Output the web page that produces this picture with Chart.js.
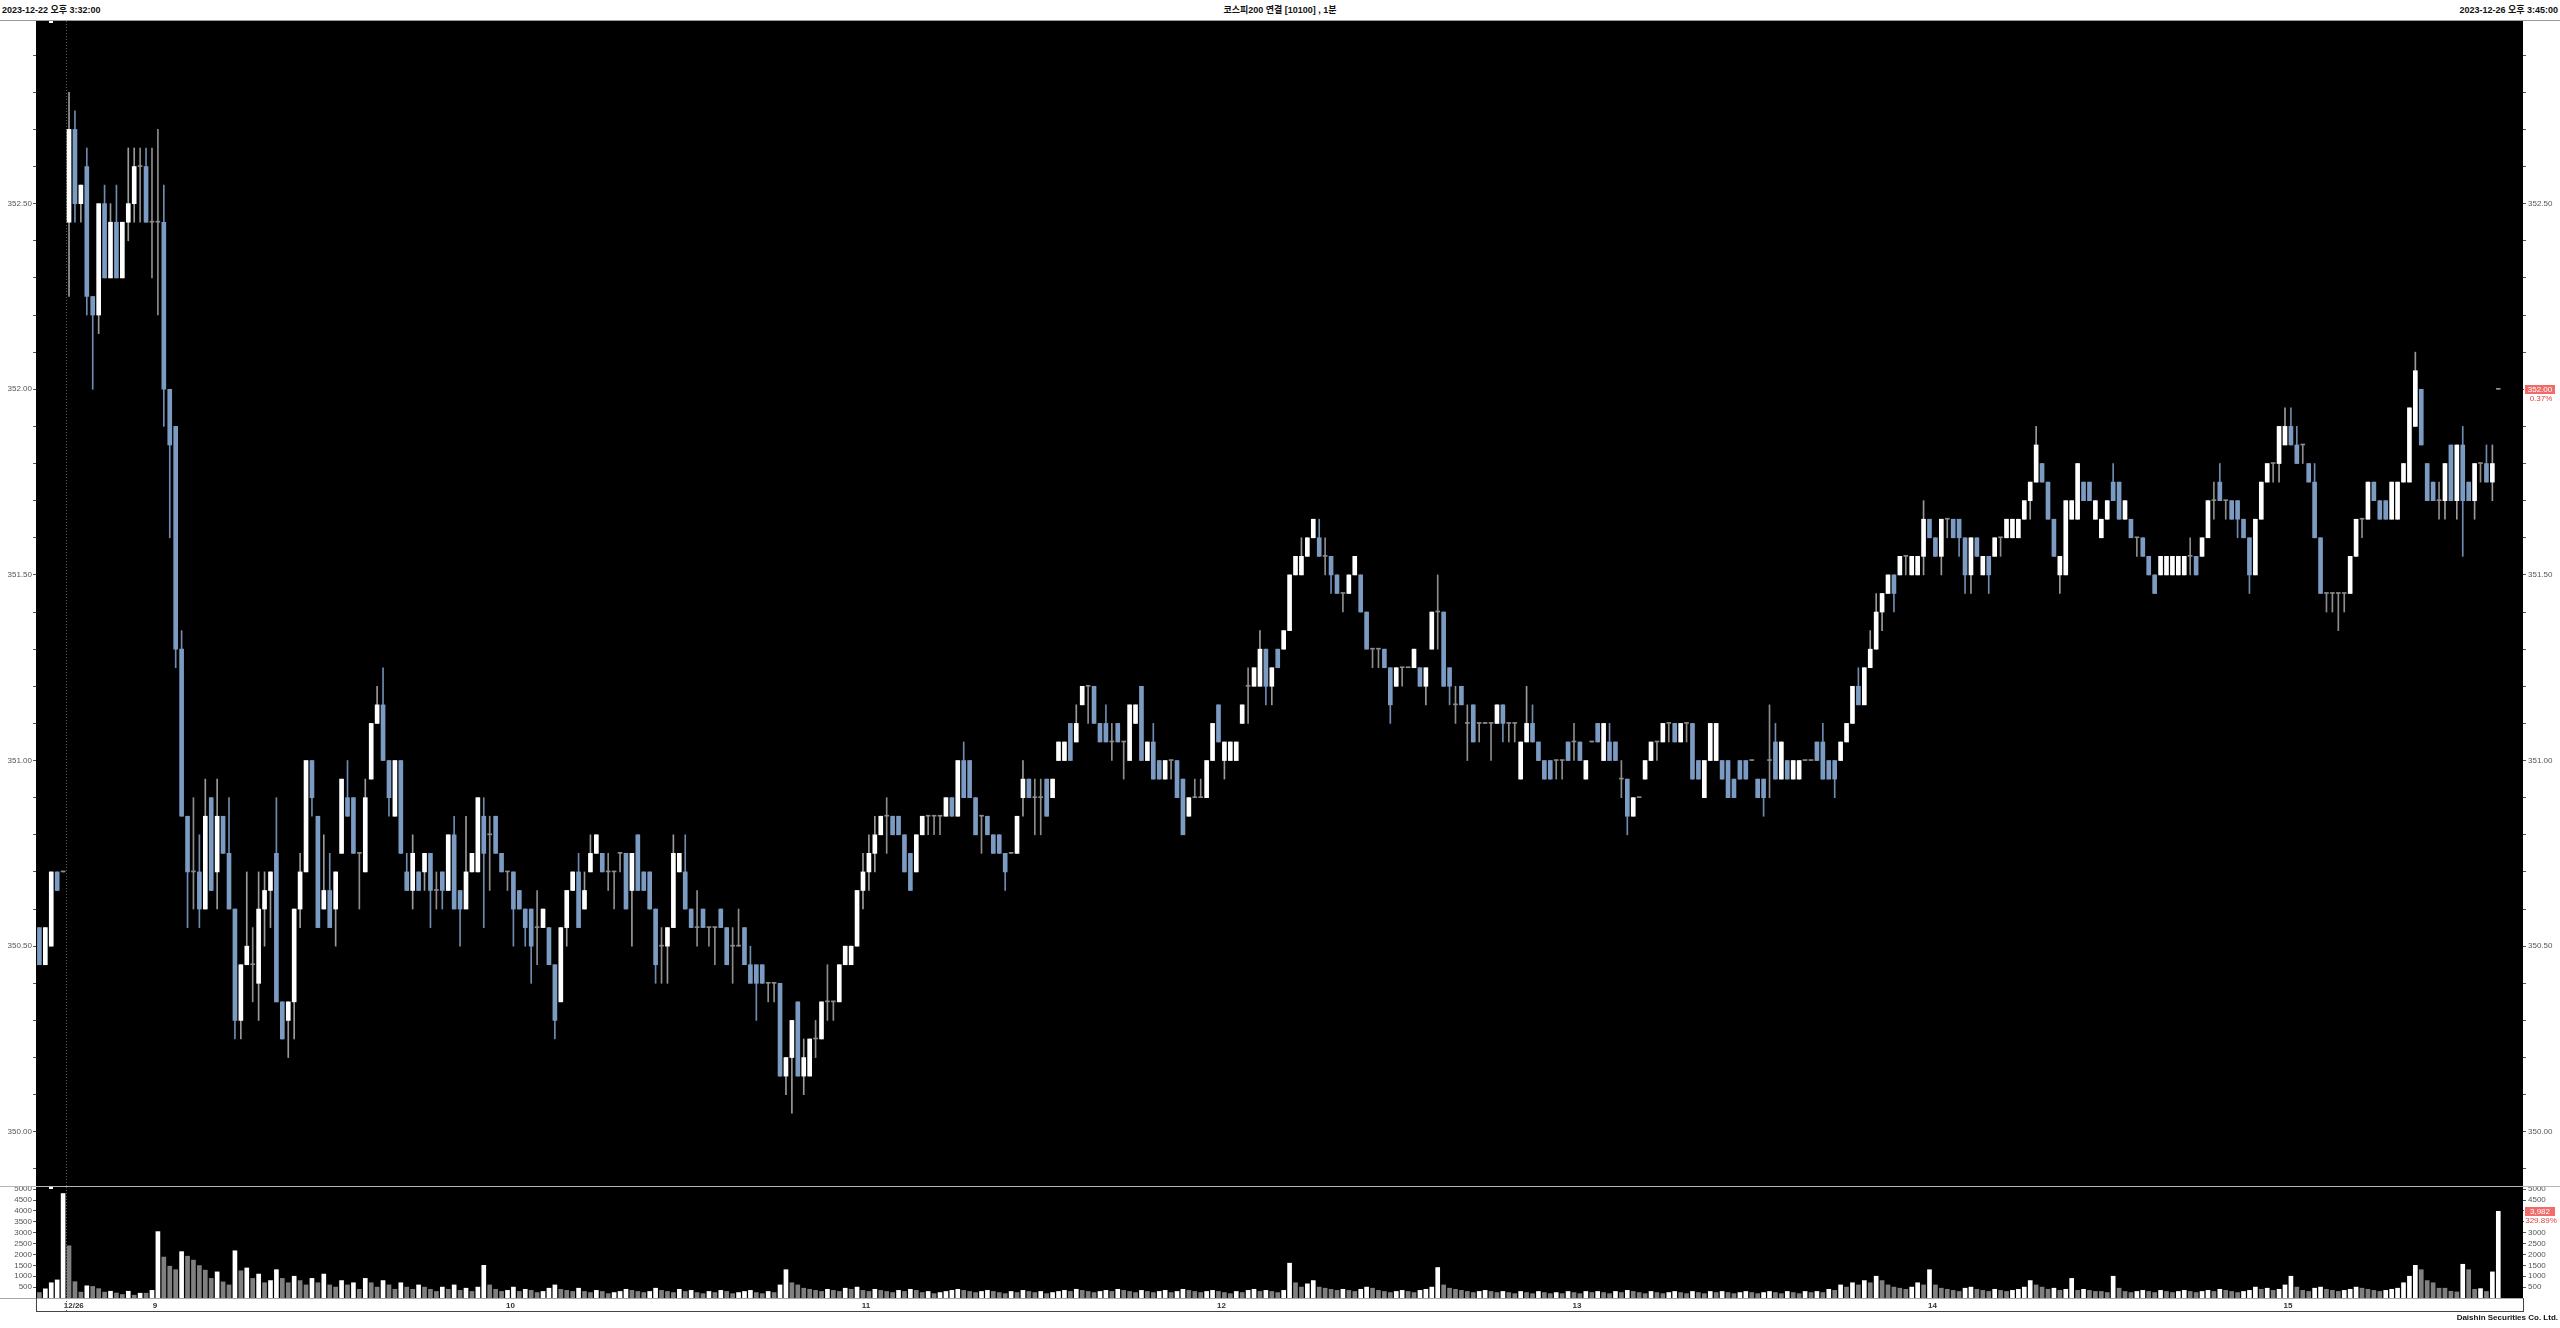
<!DOCTYPE html>
<html>
<head>
<meta charset="utf-8">
<script src="https://cdn.jsdelivr.net/npm/chart.js@4.4.0/dist/chart.umd.min.js"></script>
<style>
  html, body { margin: 0; padding: 0; background: #fff; }
  body { width: 2560px; height: 1328px; position: relative; overflow: hidden;
         font-family: "Liberation Sans", Arial, "Noto Sans CJK KR", sans-serif; }
  .hdr { position: absolute; top: 4px; font-size: 9px; font-weight: bold; color: #111;
         white-space: nowrap; line-height: 12px; }
  .ln { position: absolute; }
  canvas { position: absolute; left: 0; }
  .foot { position: absolute; right: 2px; top: 1313px; font-size: 8px; font-weight: bold; color: #111; }
</style>
</head>
<body>
<div class="hdr" style="left:2px">2023-12-22 오후 3:32:00</div>
<div class="hdr" style="left:0;width:2560px;text-align:center">코스피200 연결 [10100] , 1분</div>
<div class="hdr" style="right:2px">2023-12-26 오후 3:45:00</div>
<div class="ln" style="left:0;top:20px;width:2560px;height:1px;background:#9a9a9a"></div>
<canvas id="price" width="2560" height="1165" style="top:21px"></canvas>
<div class="ln" style="left:0;top:1186px;width:2560px;height:1px;background:#b4b4b4"></div>
<canvas id="volume" width="2560" height="141" style="top:1187px"></canvas>
<div class="ln" style="left:0;top:1298px;width:2523px;height:1px;background:#a8a8a8"></div>
<div class="ln" style="left:36px;top:1311px;width:2488px;height:1px;background:#444"></div>
<div class="ln" style="left:36px;top:1298px;width:1px;height:14px;background:#444"></div>
<div class="ln" style="left:2523px;top:1298px;width:1px;height:14px;background:#444"></div>
<div class="foot">Daishin Securities Co. Ltd.</div>
<script>
// 1-minute candles: 12/22 close (5) + 12/26 session 08:45 ~ 15:35, 15:45 close
const opens = [
  350.55, 350.45, 350.50, 350.70, 350.70, 352.45, 352.70, 352.50, 352.60, 352.25,
  352.20, 352.50, 352.30, 352.45, 352.30, 352.45, 352.50, 352.60, 352.60, 352.45,
  352.45, 352.45, 352.00, 351.90, 351.30, 350.85, 350.70, 350.70, 350.60, 350.90,
  350.70, 350.85, 350.75, 350.60, 350.30, 350.45, 350.45, 350.40, 350.60, 350.65,
  350.75, 350.35, 350.30, 350.35, 350.60, 350.70, 351.00, 350.85, 350.60, 350.65,
  350.60, 350.75, 350.90, 350.90, 350.75, 350.70, 350.95, 351.10, 351.15, 351.00,
  350.85, 351.00, 350.70, 350.65, 350.70, 350.70, 350.75, 350.65, 350.70, 350.65,
  350.80, 350.65, 350.60, 350.70, 350.70, 350.85, 350.80, 350.85, 350.75, 350.70,
  350.70, 350.65, 350.60, 350.60, 350.55, 350.55, 350.55, 350.45, 350.35, 350.55,
  350.65, 350.70, 350.60, 350.70, 350.75, 350.75, 350.70, 350.70, 350.75, 350.75,
  350.65, 350.80, 350.70, 350.70, 350.60, 350.50, 350.50, 350.55, 350.70, 350.70,
  350.60, 350.55, 350.60, 350.55, 350.55, 350.60, 350.55, 350.50, 350.50, 350.55,
  350.45, 350.45, 350.45, 350.40, 350.40, 350.40, 350.15, 350.20, 350.35, 350.15,
  350.15, 350.25, 350.25, 350.35, 350.35, 350.35, 350.45, 350.45, 350.50, 350.65,
  350.70, 350.75, 350.80, 350.85, 350.85, 350.85, 350.80, 350.75, 350.70, 350.80,
  350.85, 350.85, 350.85, 350.85, 350.90, 350.85, 351.00, 351.00, 350.90, 350.85,
  350.85, 350.80, 350.80, 350.75, 350.75, 350.75, 350.90, 350.95, 350.90, 350.90,
  350.95, 350.90, 351.00, 351.00, 351.10, 351.05, 351.15, 351.20, 351.20, 351.10,
  351.10, 351.05, 351.10, 351.05, 351.00, 351.10, 351.20, 351.00, 351.05, 351.00,
  350.95, 351.00, 351.00, 350.95, 350.85, 350.90, 350.90, 350.90, 351.00, 351.15,
  351.00, 351.00, 351.00, 351.10, 351.20, 351.20, 351.20, 351.30, 351.20, 351.30,
  351.30, 351.35, 351.50, 351.50, 351.55, 351.60, 351.60, 351.55, 351.55, 351.50,
  351.45, 351.45, 351.50, 351.50, 351.40, 351.30, 351.30, 351.30, 351.25, 351.20,
  351.25, 351.25, 351.25, 351.25, 351.20, 351.30, 351.40, 351.40, 351.25, 351.15,
  351.20, 351.10, 351.15, 351.10, 351.10, 351.10, 351.10, 351.15, 351.10, 351.10,
  350.95, 351.05, 351.10, 351.05, 351.00, 351.00, 351.00, 351.00, 351.05, 351.05,
  351.05, 350.95, 351.05, 351.10, 351.00, 351.05, 351.05, 350.95, 350.95, 350.85,
  350.90, 350.95, 351.00, 351.05, 351.05, 351.10, 351.10, 351.05, 351.10, 351.10,
  351.00, 350.90, 351.00, 351.00, 351.00, 351.00, 350.95, 351.00, 351.00, 351.00,
  350.95, 350.95, 351.00, 351.05, 350.95, 351.00, 350.95, 350.95, 351.00, 351.00,
  351.05, 351.05, 351.00, 351.00, 351.00, 351.05, 351.10, 351.20, 351.15, 351.25,
  351.30, 351.40, 351.45, 351.50, 351.50, 351.55, 351.50, 351.50, 351.55, 351.65,
  351.60, 351.55, 351.65, 351.65, 351.65, 351.60, 351.50, 351.60, 351.50, 351.55,
  351.55, 351.60, 351.60, 351.60, 351.60, 351.65, 351.70, 351.75, 351.80, 351.75,
  351.65, 351.50, 351.50, 351.65, 351.65, 351.75, 351.75, 351.65, 351.60, 351.65,
  351.75, 351.75, 351.65, 351.65, 351.60, 351.60, 351.55, 351.50, 351.50, 351.50,
  351.50, 351.50, 351.50, 351.55, 351.55, 351.55, 351.60, 351.70, 351.75, 351.70,
  351.70, 351.70, 351.65, 351.60, 351.50, 351.65, 351.75, 351.80, 351.80, 351.85,
  351.90, 351.85, 351.85, 351.80, 351.75, 351.60, 351.45, 351.45, 351.45, 351.45,
  351.45, 351.55, 351.65, 351.65, 351.75, 351.70, 351.70, 351.65, 351.65, 351.75,
  351.75, 351.90, 352.00, 351.80, 351.75, 351.70, 351.70, 351.85, 351.70, 351.85,
  351.75, 351.70, 351.80, 351.80, 351.75, 352.00
];
const highs = [
  350.55, 350.55, 350.70, 350.70, 350.70, 352.80, 352.75, 352.55, 352.65, 352.25,
  352.50, 352.55, 352.50, 352.55, 352.45, 352.65, 352.65, 352.65, 352.65, 352.65,
  352.70, 352.55, 352.00, 351.90, 351.35, 350.85, 350.90, 350.80, 350.95, 350.90,
  350.95, 350.85, 350.90, 350.60, 350.45, 350.70, 350.55, 350.70, 350.70, 350.70,
  350.90, 350.35, 350.35, 350.60, 350.75, 351.00, 351.00, 350.85, 350.80, 350.75,
  350.70, 350.95, 351.00, 350.90, 350.75, 350.95, 351.10, 351.20, 351.25, 351.00,
  351.00, 351.00, 350.75, 350.80, 350.70, 350.75, 350.75, 350.70, 350.70, 350.80,
  350.85, 350.65, 350.85, 350.75, 350.90, 350.90, 350.85, 350.85, 350.75, 350.70,
  350.70, 350.65, 350.60, 350.60, 350.65, 350.60, 350.55, 350.45, 350.55, 350.65,
  350.70, 350.75, 350.70, 350.80, 350.80, 350.75, 350.75, 350.70, 350.75, 350.75,
  350.75, 350.80, 350.70, 350.70, 350.60, 350.55, 350.55, 350.80, 350.75, 350.80,
  350.60, 350.65, 350.60, 350.55, 350.55, 350.60, 350.55, 350.55, 350.60, 350.55,
  350.50, 350.45, 350.45, 350.40, 350.40, 350.40, 350.20, 350.30, 350.35, 350.25,
  350.25, 350.30, 350.35, 350.45, 350.35, 350.45, 350.50, 350.50, 350.65, 350.75,
  350.80, 350.85, 350.85, 350.90, 350.85, 350.85, 350.80, 350.75, 350.80, 350.85,
  350.85, 350.85, 350.85, 350.90, 350.90, 351.00, 351.05, 351.00, 350.90, 350.85,
  350.85, 350.80, 350.80, 350.75, 350.75, 350.85, 351.00, 350.95, 350.95, 350.95,
  350.95, 350.95, 351.05, 351.05, 351.10, 351.15, 351.20, 351.20, 351.20, 351.10,
  351.15, 351.10, 351.10, 351.05, 351.15, 351.15, 351.20, 351.05, 351.10, 351.00,
  351.00, 351.00, 351.00, 350.95, 350.90, 350.95, 350.95, 351.00, 351.10, 351.15,
  351.05, 351.05, 351.05, 351.15, 351.25, 351.25, 351.35, 351.30, 351.25, 351.30,
  351.35, 351.50, 351.55, 351.60, 351.60, 351.65, 351.65, 351.60, 351.55, 351.50,
  351.45, 351.50, 351.55, 351.50, 351.40, 351.30, 351.30, 351.30, 351.25, 351.25,
  351.25, 351.25, 351.30, 351.25, 351.25, 351.40, 351.50, 351.40, 351.25, 351.20,
  351.20, 351.15, 351.15, 351.10, 351.10, 351.10, 351.15, 351.15, 351.10, 351.10,
  351.05, 351.20, 351.15, 351.05, 351.00, 351.00, 351.00, 351.00, 351.05, 351.10,
  351.05, 351.00, 351.05, 351.10, 351.10, 351.10, 351.05, 351.00, 350.95, 350.90,
  350.90, 351.00, 351.05, 351.05, 351.10, 351.10, 351.10, 351.10, 351.10, 351.10,
  351.00, 351.00, 351.10, 351.10, 351.00, 351.00, 350.95, 351.00, 351.00, 351.00,
  350.95, 350.95, 351.15, 351.10, 351.05, 351.00, 351.00, 351.00, 351.00, 351.00,
  351.05, 351.10, 351.00, 351.00, 351.05, 351.10, 351.20, 351.25, 351.25, 351.35,
  351.45, 351.45, 351.50, 351.50, 351.55, 351.55, 351.55, 351.55, 351.70, 351.65,
  351.60, 351.65, 351.65, 351.65, 351.65, 351.60, 351.60, 351.60, 351.55, 351.55,
  351.60, 351.60, 351.65, 351.65, 351.65, 351.70, 351.75, 351.90, 351.80, 351.75,
  351.65, 351.55, 351.70, 351.70, 351.80, 351.75, 351.75, 351.70, 351.65, 351.70,
  351.80, 351.75, 351.70, 351.65, 351.60, 351.60, 351.55, 351.50, 351.55, 351.55,
  351.55, 351.55, 351.55, 351.60, 351.55, 351.60, 351.70, 351.75, 351.80, 351.70,
  351.70, 351.70, 351.65, 351.60, 351.65, 351.75, 351.80, 351.80, 351.90, 351.95,
  351.95, 351.90, 351.85, 351.80, 351.80, 351.60, 351.45, 351.45, 351.45, 351.45,
  351.55, 351.65, 351.65, 351.75, 351.75, 351.70, 351.70, 351.75, 351.75, 351.80,
  351.95, 352.10, 352.00, 351.80, 351.75, 351.75, 351.80, 351.85, 351.85, 351.90,
  351.75, 351.80, 351.80, 351.85, 351.85, 352.00
];
const lows = [
  350.45, 350.45, 350.50, 350.65, 350.70, 352.25, 352.45, 352.45, 352.20, 352.00,
  352.15, 352.30, 352.30, 352.30, 352.30, 352.40, 352.45, 352.45, 352.45, 352.30,
  352.20, 351.90, 351.60, 351.25, 350.85, 350.55, 350.60, 350.55, 350.60, 350.65,
  350.60, 350.75, 350.60, 350.25, 350.25, 350.45, 350.35, 350.30, 350.50, 350.55,
  350.35, 350.25, 350.20, 350.25, 350.55, 350.70, 350.85, 350.55, 350.60, 350.55,
  350.50, 350.75, 350.85, 350.75, 350.60, 350.70, 350.95, 351.10, 351.00, 350.85,
  350.85, 350.75, 350.65, 350.60, 350.65, 350.65, 350.55, 350.60, 350.60, 350.65,
  350.60, 350.50, 350.60, 350.70, 350.70, 350.55, 350.65, 350.75, 350.70, 350.65,
  350.50, 350.60, 350.50, 350.40, 350.45, 350.55, 350.45, 350.25, 350.35, 350.50,
  350.65, 350.55, 350.60, 350.70, 350.75, 350.70, 350.65, 350.60, 350.70, 350.60,
  350.50, 350.65, 350.65, 350.60, 350.40, 350.40, 350.40, 350.55, 350.70, 350.60,
  350.55, 350.50, 350.55, 350.50, 350.45, 350.55, 350.45, 350.40, 350.50, 350.45,
  350.40, 350.30, 350.40, 350.35, 350.35, 350.15, 350.10, 350.05, 350.15, 350.10,
  350.15, 350.20, 350.25, 350.30, 350.30, 350.35, 350.45, 350.45, 350.50, 350.60,
  350.65, 350.70, 350.80, 350.75, 350.80, 350.80, 350.70, 350.65, 350.70, 350.80,
  350.80, 350.80, 350.80, 350.85, 350.85, 350.85, 350.90, 350.90, 350.80, 350.75,
  350.80, 350.75, 350.75, 350.65, 350.75, 350.75, 350.85, 350.90, 350.80, 350.80,
  350.85, 350.90, 351.00, 351.00, 351.00, 351.05, 351.15, 351.10, 351.10, 351.05,
  351.05, 351.00, 351.05, 350.95, 351.00, 351.10, 351.00, 351.00, 350.95, 350.95,
  350.95, 350.95, 350.90, 350.80, 350.85, 350.90, 350.90, 350.90, 351.00, 351.05,
  350.95, 351.00, 351.00, 351.10, 351.10, 351.20, 351.20, 351.15, 351.15, 351.25,
  351.30, 351.35, 351.50, 351.50, 351.55, 351.60, 351.55, 351.50, 351.45, 351.45,
  351.40, 351.45, 351.50, 351.40, 351.30, 351.25, 351.25, 351.25, 351.10, 351.20,
  351.20, 351.25, 351.25, 351.20, 351.15, 351.30, 351.30, 351.20, 351.15, 351.10,
  351.15, 351.00, 351.05, 351.05, 351.10, 351.00, 351.10, 351.05, 351.05, 351.05,
  350.95, 351.05, 351.05, 351.00, 350.95, 350.95, 350.95, 350.95, 351.00, 351.00,
  351.00, 350.95, 351.05, 351.05, 351.00, 351.00, 351.00, 350.90, 350.80, 350.85,
  350.90, 350.95, 351.00, 351.00, 351.05, 351.05, 351.05, 351.05, 351.05, 350.95,
  350.95, 350.90, 351.00, 351.00, 350.95, 350.90, 350.90, 350.95, 350.95, 351.00,
  350.90, 350.85, 350.90, 350.95, 350.95, 350.95, 350.95, 350.95, 351.00, 351.00,
  351.00, 350.95, 350.95, 350.90, 351.00, 351.05, 351.10, 351.15, 351.15, 351.25,
  351.30, 351.35, 351.45, 351.40, 351.50, 351.50, 351.50, 351.50, 351.50, 351.60,
  351.55, 351.50, 351.60, 351.60, 351.55, 351.45, 351.45, 351.55, 351.50, 351.45,
  351.55, 351.55, 351.60, 351.60, 351.60, 351.65, 351.65, 351.75, 351.75, 351.65,
  351.55, 351.45, 351.50, 351.65, 351.65, 351.70, 351.70, 351.65, 351.60, 351.65,
  351.70, 351.65, 351.65, 351.60, 351.55, 351.55, 351.50, 351.45, 351.50, 351.50,
  351.50, 351.50, 351.50, 351.50, 351.50, 351.55, 351.60, 351.65, 351.70, 351.65,
  351.65, 351.60, 351.60, 351.45, 351.50, 351.65, 351.75, 351.75, 351.75, 351.85,
  351.85, 351.80, 351.80, 351.75, 351.60, 351.45, 351.40, 351.40, 351.35, 351.40,
  351.45, 351.55, 351.60, 351.65, 351.70, 351.65, 351.65, 351.65, 351.65, 351.75,
  351.75, 351.90, 351.85, 351.70, 351.70, 351.65, 351.65, 351.70, 351.65, 351.55,
  351.70, 351.65, 351.75, 351.75, 351.70, 352.00
];
const closes = [
  350.45, 350.55, 350.70, 350.65, 350.70, 352.70, 352.50, 352.55, 352.25, 352.20,
  352.50, 352.30, 352.45, 352.30, 352.45, 352.50, 352.60, 352.60, 352.45, 352.45,
  352.45, 352.00, 351.85, 351.30, 350.85, 350.70, 350.70, 350.60, 350.85, 350.65,
  350.85, 350.75, 350.60, 350.30, 350.45, 350.50, 350.45, 350.60, 350.65, 350.70,
  350.35, 350.25, 350.35, 350.60, 350.70, 351.00, 350.90, 350.55, 350.65, 350.55,
  350.70, 350.95, 350.85, 350.75, 350.75, 350.90, 351.10, 351.15, 351.00, 350.90,
  351.00, 350.75, 350.65, 350.75, 350.65, 350.75, 350.65, 350.65, 350.65, 350.80,
  350.60, 350.60, 350.70, 350.75, 350.90, 350.75, 350.80, 350.75, 350.70, 350.70,
  350.60, 350.60, 350.55, 350.50, 350.55, 350.60, 350.45, 350.30, 350.55, 350.65,
  350.70, 350.55, 350.65, 350.75, 350.80, 350.70, 350.70, 350.70, 350.75, 350.60,
  350.75, 350.65, 350.65, 350.60, 350.45, 350.50, 350.55, 350.75, 350.75, 350.60,
  350.55, 350.55, 350.55, 350.55, 350.55, 350.55, 350.45, 350.50, 350.50, 350.45,
  350.40, 350.40, 350.40, 350.40, 350.40, 350.15, 350.20, 350.30, 350.15, 350.20,
  350.25, 350.25, 350.35, 350.35, 350.35, 350.45, 350.50, 350.50, 350.65, 350.70,
  350.75, 350.80, 350.85, 350.85, 350.80, 350.80, 350.70, 350.65, 350.80, 350.85,
  350.85, 350.85, 350.85, 350.90, 350.85, 351.00, 350.90, 350.90, 350.80, 350.85,
  350.80, 350.75, 350.75, 350.70, 350.75, 350.85, 350.95, 350.90, 350.90, 350.90,
  350.85, 350.95, 351.05, 351.05, 351.00, 351.10, 351.20, 351.20, 351.10, 351.05,
  351.05, 351.05, 351.05, 351.05, 351.15, 351.15, 351.00, 351.05, 350.95, 350.95,
  351.00, 351.00, 350.90, 350.80, 350.90, 350.90, 350.90, 351.00, 351.10, 351.05,
  351.05, 351.05, 351.05, 351.15, 351.20, 351.25, 351.30, 351.20, 351.25, 351.25,
  351.35, 351.50, 351.55, 351.55, 351.60, 351.65, 351.55, 351.55, 351.50, 351.45,
  351.45, 351.50, 351.55, 351.40, 351.30, 351.30, 351.30, 351.25, 351.15, 351.25,
  351.25, 351.25, 351.30, 351.20, 351.25, 351.40, 351.40, 351.20, 351.20, 351.15,
  351.15, 351.10, 351.05, 351.10, 351.10, 351.10, 351.15, 351.10, 351.10, 351.10,
  351.05, 351.10, 351.05, 351.00, 350.95, 350.95, 351.00, 351.00, 351.00, 351.05,
  351.00, 351.00, 351.05, 351.05, 351.10, 351.00, 351.00, 350.95, 350.85, 350.90,
  350.90, 351.00, 351.05, 351.05, 351.10, 351.10, 351.05, 351.10, 351.10, 350.95,
  350.95, 351.00, 351.10, 351.10, 350.95, 350.90, 350.90, 350.95, 350.95, 351.00,
  350.90, 350.90, 351.00, 350.95, 351.05, 350.95, 351.00, 351.00, 351.00, 351.00,
  351.00, 350.95, 350.95, 350.95, 351.05, 351.10, 351.20, 351.15, 351.25, 351.30,
  351.40, 351.45, 351.50, 351.45, 351.55, 351.55, 351.55, 351.55, 351.65, 351.60,
  351.55, 351.65, 351.65, 351.60, 351.60, 351.50, 351.60, 351.55, 351.55, 351.50,
  351.60, 351.60, 351.65, 351.65, 351.65, 351.70, 351.75, 351.85, 351.75, 351.65,
  351.55, 351.55, 351.70, 351.70, 351.80, 351.70, 351.70, 351.70, 351.65, 351.70,
  351.70, 351.65, 351.70, 351.60, 351.60, 351.55, 351.50, 351.45, 351.55, 351.55,
  351.55, 351.55, 351.55, 351.55, 351.50, 351.60, 351.70, 351.70, 351.70, 351.70,
  351.65, 351.65, 351.60, 351.50, 351.65, 351.75, 351.80, 351.80, 351.90, 351.90,
  351.85, 351.80, 351.85, 351.75, 351.60, 351.45, 351.45, 351.45, 351.45, 351.45,
  351.55, 351.65, 351.65, 351.75, 351.70, 351.65, 351.65, 351.75, 351.75, 351.80,
  351.95, 352.05, 351.85, 351.70, 351.70, 351.70, 351.80, 351.70, 351.85, 351.70,
  351.70, 351.80, 351.80, 351.75, 351.80, 352.00
];
const volumes = [
  250, 420, 700, 830, 4800, 2400, 750, 270, 560, 530,
  430, 270, 310, 230, 160, 310, 130, 220, 220, 350,
  3050, 1880, 1460, 1300, 2130, 1920, 1740, 1490, 1280, 900,
  1200, 740, 600, 2170, 1250, 1380, 900, 1100, 700, 800,
  1300, 900, 700, 1000, 800, 600, 900, 700, 1100, 600,
  500, 800, 600, 700, 400, 900, 700, 500, 800, 600,
  400, 700, 500, 400, 600, 500, 400, 300, 500, 400,
  600, 350, 450, 300, 500, 1500, 600, 400, 300, 350,
  500, 300, 400, 350, 250, 300, 450, 600, 400, 350,
  300, 450, 300, 250, 350, 300, 200, 250, 300, 400,
  350, 300, 250, 300, 450, 350, 300, 250, 400, 300,
  350, 250, 200, 300, 250, 350, 300, 200, 250, 300,
  350, 250, 200, 300, 250, 600, 1300, 700, 600, 450,
  400, 350, 300, 400, 350, 300, 450, 400, 500, 350,
  300, 400, 350, 300, 250, 350, 300, 400, 350, 250,
  300, 200, 250, 300, 350, 400, 350, 300, 250, 300,
  350, 300, 250, 200, 300, 250, 350, 300, 250, 300,
  200, 250, 300, 350, 300, 400, 350, 300, 250, 300,
  350, 300, 400, 350, 300, 250, 350, 300, 250, 300,
  350, 250, 300, 400, 350, 300, 250, 300, 350, 300,
  250, 200, 300, 250, 350, 400, 300, 350, 300, 250,
  350, 1600, 700, 500, 650, 800, 500, 450, 400, 350,
  400, 350, 300, 400, 500, 450, 350, 300, 250, 300,
  350, 300, 250, 350, 400, 500, 1400, 600, 450, 400,
  350, 300, 250, 300, 350, 300, 250, 300, 250, 200,
  300, 250, 200, 300, 250, 200, 250, 200, 300, 250,
  200, 300, 250, 300, 250, 200, 300, 250, 350, 300,
  250, 200, 300, 250, 200, 250, 300, 250, 200, 300,
  250, 200, 300, 250, 300, 250, 200, 250, 300, 250,
  200, 250, 300, 250, 200, 300, 250, 200, 300, 250,
  300, 250, 400, 350, 600, 500, 700, 600, 800, 700,
  1000, 800, 600, 500, 450, 400, 500, 700, 600, 1300,
  600, 450, 400, 350, 300, 450, 500, 400, 350, 300,
  400, 350, 300, 350, 400, 500, 800, 600, 500, 400,
  450, 350, 400, 900, 350, 400, 350, 300, 300, 250,
  1000, 450, 300, 250, 300, 350, 300, 250, 350, 300,
  250, 300, 350, 300, 250, 300, 350, 300, 400, 350,
  300, 250, 300, 350, 500, 400, 450, 350, 400, 600,
  1000, 500, 350, 300, 450, 500, 400, 350, 300, 350,
  400, 500, 450, 400, 350, 300, 350, 400, 450, 700,
  1000, 1500, 1300, 800, 700, 450, 450, 310, 280, 1550,
  1300, 400, 430, 300, 1200, 3982
];
// x-axis labels and the candle index where each one starts
const tickLabels = ['12/26', '9', '10', '11', '12', '13', '14', '15'];
const tickStarts = [5, 20, 80, 140, 200, 260, 320, 380];
const volumeTicks = [500, 1000, 1500, 2000, 2500, 3000, 3500, 4000, 4500, 5000];
const prevClose = 350.70;       // 12/22 close
const volumeChangeText = '329.89%';

const N = closes.length;
const LEFT_W = 36, RIGHT_W = 37;
const X_MIN = -0.574, X_MAX = 419.17;
const DAY_BREAK = 4.5;

const UP = '#ffffff', DOWN = '#7b9bc3', FLAT = '#8c8c8c';
const idx = Array.from({ length: N }, (_, i) => i);
const dir = idx.map(i => closes[i] > opens[i] ? 1 : (closes[i] < opens[i] ? -1 : 0));
const bodyColors = dir.map(d => d > 0 ? UP : (d < 0 ? DOWN : FLAT));
const wickColors = dir.map(d => d > 0 ? '#9a9a9a' : (d < 0 ? '#6f8bb0' : FLAT));
const volColors = volumes.map((v, i) => (i > 0 && v > volumes[i - 1]) ? '#ffffff' : '#808080');

const axisFont = { family: '"Liberation Sans", Arial, sans-serif', size: 8 };

function fixWidth(w) {
    return (s) => { s.width = w; s.paddingTop = 0; s.paddingBottom = 0; };
}

function yAxis(pos, opts) {
    return Object.assign({
        position: pos,
        afterFit: fixWidth(pos === 'left' ? LEFT_W : RIGHT_W),
        grid: { drawOnChartArea: false, drawTicks: true, tickLength: 3, color: '#555', tickColor: '#555' },
        border: { display: false }
    }, opts);
}

const bgPlugin = {
    id: 'bg',
    beforeDraw(chart) {
        const { ctx, chartArea: a } = chart;
        ctx.save();
        ctx.fillStyle = '#000';
        ctx.fillRect(a.left, a.top, a.right - a.left, a.bottom - a.top);
        ctx.restore();
    }
};

function dayLine(extra) {
    return {
        id: 'dayLine',
        beforeDatasetsDraw(chart) {
            const { ctx, chartArea: a, scales } = chart;
            const x = Math.round(scales.x.getPixelForValue(DAY_BREAK)) + 0.5;
            ctx.save();
            ctx.strokeStyle = '#5a5a5a';
            ctx.lineWidth = 1;
            ctx.setLineDash([1, 2]);
            ctx.beginPath();
            ctx.moveTo(x, a.top);
            ctx.lineTo(x, a.bottom + extra);
            ctx.stroke();
            ctx.restore();
        }
    };
}

function lastMarker(valueText, subText, scaleId, value) {
    return {
        id: 'lastMarker',
        afterDraw(chart) {
            const { ctx, chartArea: a, scales } = chart;
            const y = Math.round(scales[scaleId].getPixelForValue(value));
            ctx.save();
            ctx.fillStyle = '#fff';
            ctx.fillRect(a.right + 1, y - 5, 36, 20);
            ctx.fillStyle = '#f26b6b';
            ctx.fillRect(a.right + 2, y - 4, 30, 9);
            ctx.font = '8px "Liberation Sans", Arial, sans-serif';
            ctx.textAlign = 'center';
            ctx.textBaseline = 'middle';
            ctx.fillStyle = '#fff';
            ctx.fillText(valueText, a.right + 17, y + 0.5);
            ctx.fillStyle = '#e0403f';
            ctx.fillText(subText, a.right + 18, y + 10);
            // scroll marker
            ctx.fillStyle = '#fff';
            ctx.fillRect(Math.round(scales.x.getPixelForValue(2)) - 2, a.top, 4, 2);
            ctx.restore();
        }
    };
}

const lastClose = closes[N - 1];
const pct = ((lastClose - prevClose) / prevClose * 100).toFixed(2) + '%';

new Chart(document.getElementById('price'), {
    type: 'bar',
    data: {
        datasets: [
            {
                data: idx.map(i => ({ x: i, y: [lows[i], highs[i]] })),
                backgroundColor: wickColors,
                barThickness: 1,
                grouped: false,
                order: 2
            },
            {
                data: idx.map(i => ({ x: i, y: [Math.min(opens[i], closes[i]), Math.max(opens[i], closes[i])] })),
                backgroundColor: bodyColors,
                barThickness: 4,
                minBarLength: 1,
                grouped: false,
                order: 1
            }
        ]
    },
    options: {
        responsive: false,
        animation: false,
        devicePixelRatio: 1,
        layout: { padding: 0 },
        plugins: { legend: { display: false }, tooltip: { enabled: false } },
        scales: {
            x: { type: 'linear', min: X_MIN, max: X_MAX, offset: false, display: false },
            y: yAxis('left', {
                min: 349.854, max: 352.992,
                ticks: {
                    stepSize: 0.1, includeBounds: false, padding: 1, color: '#555', font: axisFont,
                    callback: (v) => Math.abs(v * 2 - Math.round(v * 2)) < 1e-6 ? v.toFixed(2) : ''
                }
            }),
            y2: yAxis('right', {
                min: 349.854, max: 352.992,
                ticks: {
                    stepSize: 0.1, includeBounds: false, padding: 2, color: '#555', font: axisFont,
                    callback: (v) => Math.abs(v * 2 - Math.round(v * 2)) < 1e-6 ? v.toFixed(2) : ''
                }
            })
        }
    },
    plugins: [bgPlugin, dayLine(0), lastMarker(lastClose.toFixed(2), pct, 'y2', lastClose)]
});

const volTickSetter = (s) => { s.ticks = volumeTicks.map(v => ({ value: v })); };

new Chart(document.getElementById('volume'), {
    type: 'bar',
    data: {
        datasets: [{
            data: idx.map(i => ({ x: i, y: volumes[i] })),
            backgroundColor: volColors,
            barThickness: 4,
            grouped: false
        }]
    },
    options: {
        responsive: false,
        animation: false,
        devicePixelRatio: 1,
        layout: { padding: { bottom: 16 } },
        plugins: { legend: { display: false }, tooltip: { enabled: false } },
        scales: {
            x: {
                type: 'linear', min: X_MIN, max: X_MAX, offset: false, position: 'bottom',
                afterBuildTicks: (s) => {
                    // the date label starts at the day break, hour labels sit on the boundary
                    s.ticks = tickStarts.map((v, i) => ({ value: i === 0 ? v - 0.5 + 1.3 : v - 0.5 }));
                },
                afterFit: (s) => { s.height = 14; s.paddingLeft = 0; s.paddingRight = 0; },
                ticks: {
                    autoSkip: false, maxRotation: 0, minRotation: 0, padding: 3, color: '#333',
                    font: { family: axisFont.family, size: 8, weight: 'bold' },
                    callback: (v, i) => tickLabels[i]
                },
                grid: { display: false, drawTicks: false },
                border: { display: false }
            },
            y: yAxis('left', {
                min: 0, max: 5100,
                afterBuildTicks: volTickSetter,
                ticks: { padding: 1, color: '#555', font: axisFont, autoSkip: false, callback: (v) => String(v) }
            }),
            y2: yAxis('right', {
                min: 0, max: 5100,
                afterBuildTicks: volTickSetter,
                ticks: { padding: 2, color: '#555', font: axisFont, autoSkip: false, callback: (v) => String(v) }
            })
        }
    },
    plugins: [bgPlugin, dayLine(14),
        lastMarker(volumes[N - 1].toLocaleString('en-US'), volumeChangeText, 'y2', volumes[N - 1])]
});
</script>
</body>
</html>
